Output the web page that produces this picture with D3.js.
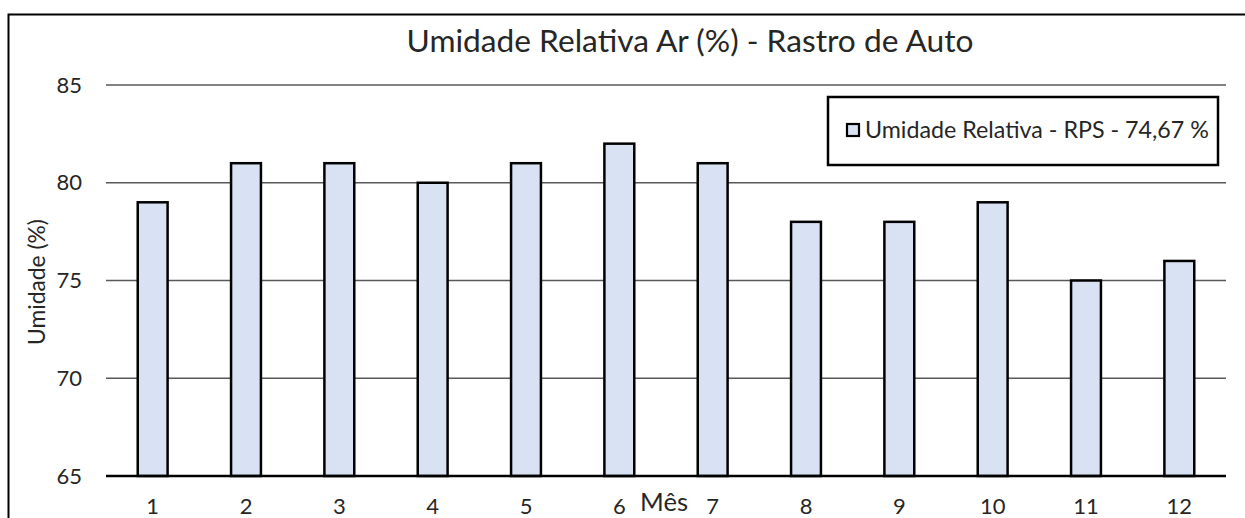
<!DOCTYPE html>
<html>
<head>
<meta charset="utf-8">
<script src="https://cdn.jsdelivr.net/npm/d3@7"></script>
<style>
  html, body { margin: 0; padding: 0; background: #fff; }
  svg { display: block; }
  text { font-family: Lato, "Open Sans", sans-serif; fill: #262626; }
</style>
</head>
<body>
<svg id="chart" width="1245" height="518"></svg>
<script>
// Monthly relative humidity (%)
const months = ["1", "2", "3", "4", "5", "6", "7", "8", "9", "10", "11", "12"];
const humidity = [79, 81, 81, 80, 81, 82, 81, 78, 78, 79, 75, 76];
const yTicks = [65, 70, 75, 80, 85];
const titleText = "Umidade Relativa Ar (%) - Rastro de Auto";
const legendText = "Umidade Relativa - RPS - 74,67 %";
const xLabel = "Mês";
const yLabel = "Umidade (%)";

const svg = d3.select("#chart");
const W = 1245, H = 518;
const plot = { left: 106, right: 1226, top: 85, bottom: 476 };

// Chart frame (clipped on right and bottom)
svg.append("rect")
  .attr("x", 8.5).attr("y", 14.5)
  .attr("width", W + 10).attr("height", H + 10)
  .attr("fill", "none").attr("stroke", "#000").attr("stroke-width", 2);

const x = d3.scaleBand().domain(months)
  .range([plot.left, plot.right]).paddingInner(0.68).paddingOuter(0.34);
const y = d3.scaleLinear().domain([65, 85]).range([plot.bottom, plot.top]);

// Horizontal gridlines
svg.append("g").selectAll("line").data(yTicks.filter(t => t !== 65)).join("line")
  .attr("x1", plot.left).attr("x2", plot.right)
  .attr("y1", d => y(d)).attr("y2", d => y(d))
  .attr("stroke", "#595959").attr("stroke-width", 1.5);

// Y axis tick labels
const yAxis = d3.axisLeft(y).tickValues(yTicks).tickSize(0).tickPadding(24);
const gy = svg.append("g").attr("transform", `translate(${plot.left},0)`).call(yAxis)
  .attr("font-size", 22).attr("font-family", "Lato, sans-serif");
gy.select(".domain").remove();
gy.selectAll("text").attr("fill", "#404040");

// Bars
svg.append("g").selectAll("rect").data(humidity).join("rect")
  .attr("x", (d, i) => x(months[i]))
  .attr("y", d => y(d))
  .attr("width", x.bandwidth())
  .attr("height", d => y(65) - y(d))
  .attr("fill", "#d9e2f3")
  .attr("stroke", "#000").attr("stroke-width", 2.5);

// X axis
const xAxis = d3.axisBottom(x).tickSize(0).tickPadding(22);
const gx = svg.append("g").attr("transform", `translate(0,${plot.bottom})`).call(xAxis)
  .attr("font-size", 22).attr("font-family", "Lato, sans-serif");
gx.select(".domain").attr("stroke", "#000").attr("stroke-width", 2.5)
  .attr("d", `M${plot.left},0H${plot.right}`);
gx.selectAll("text").attr("fill", "#404040");

// Fit a text element to a target width by adjusting font size
function fitWidth(sel, target) {
  const fs = parseFloat(sel.style("font-size"));
  const w = sel.node().getComputedTextLength();
  sel.style("font-size", (fs * target / w) + "px");
}

// Title
const title = svg.append("text")
  .attr("x", 690).attr("y", 52).attr("text-anchor", "middle")
  .style("font-size", "24px").text(titleText);
fitWidth(title, 567);

// Axis titles
const xt = svg.append("text").attr("x", 664).attr("y", 511)
  .attr("text-anchor", "middle").style("font-size", "20px").text(xLabel);
fitWidth(xt, 48);

const yt = svg.append("text")
  .attr("transform", "translate(45,282) rotate(-90)")
  .attr("text-anchor", "middle").style("font-size", "20px").text(yLabel);
fitWidth(yt, 126);

// Legend
const lg = svg.append("g");
lg.append("rect").attr("x", 828).attr("y", 97).attr("width", 390).attr("height", 68)
  .attr("fill", "#fff").attr("stroke", "#000").attr("stroke-width", 2.5);
lg.append("rect").attr("x", 847).attr("y", 124).attr("width", 12).attr("height", 12)
  .attr("fill", "#d9e2f3").attr("stroke", "#000").attr("stroke-width", 2.2);
const lt = lg.append("text").attr("x", 865).attr("y", 138)
  .style("font-size", "18px").text(legendText);
fitWidth(lt, 344);
</script>
</body>
</html>
